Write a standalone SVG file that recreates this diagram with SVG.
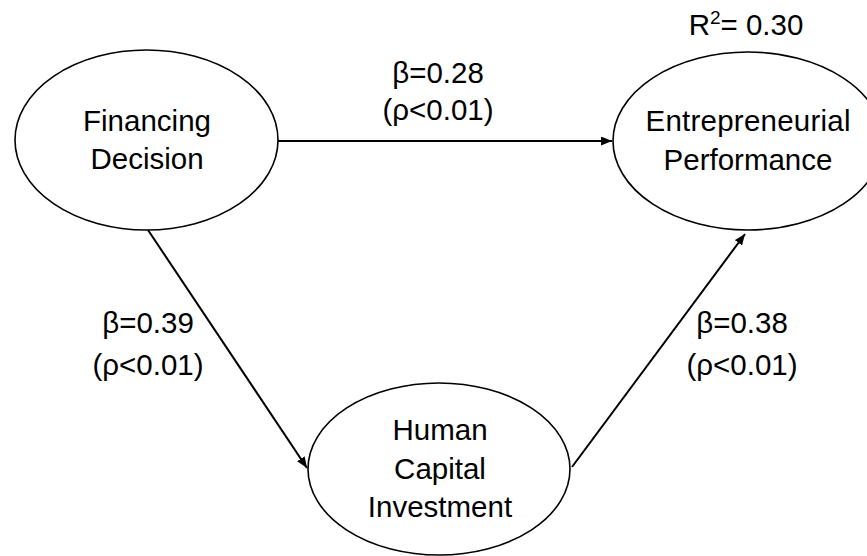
<svg xmlns="http://www.w3.org/2000/svg" width="867" height="556" viewBox="0 0 867 556">
<style>
  .node { fill: #ffffff; stroke: #000000; stroke-width: 1.6; }
  .lbl { font-family: "Liberation Sans", Arial, sans-serif; font-size: 29.5px; fill: #000000; text-anchor: middle; }
  .edge { stroke: #000000; stroke-width: 2; fill: none; marker-end: url(#arrow); }
</style>
<defs>
  <marker id="arrow" markerUnits="userSpaceOnUse" markerWidth="12" markerHeight="10" refX="11" refY="4.5" orient="auto">
    <path d="M0,0 L11,4.5 L0,9 z" fill="#000000"/>
  </marker>
</defs>
<rect width="867" height="556" fill="#ffffff"/>
<g id="connectors">
  <line class="edge" x1="278" y1="141" x2="612" y2="141"/>
  <line class="edge" x1="148" y1="230" x2="307" y2="468"/>
  <line class="edge" x1="572" y1="467" x2="745" y2="234"/>
  <text class="lbl" x="438" y="83">β=0.28</text>
  <text class="lbl" x="438" y="120">(ρ&lt;0.01)</text>
  <text class="lbl" x="148" y="333">β=0.39</text>
  <text class="lbl" x="148" y="375">(ρ&lt;0.01)</text>
  <text class="lbl" x="742" y="333">β=0.38</text>
  <text class="lbl" x="742" y="375">(ρ&lt;0.01)</text>
</g>
<g id="financing-decision">
  <ellipse class="node" cx="146.5" cy="140" rx="131.5" ry="90"/>
  <text class="lbl" x="147" y="131">Financing</text>
  <text class="lbl" x="147" y="169">Decision</text>
</g>
<g id="entrepreneurial-performance">
  <ellipse class="node" cx="748" cy="141" rx="135" ry="89"/>
  <text class="lbl" x="748" y="131" textLength="205" lengthAdjust="spacing">Entrepreneurial</text>
  <text class="lbl" x="748" y="170">Performance</text>
  <text class="lbl" x="746" y="35">R<tspan font-size="19" dy="-11">2</tspan><tspan dy="11">= 0.30</tspan></text>
</g>
<g id="human-capital-investment">
  <ellipse class="node" cx="439" cy="469" rx="131" ry="86"/>
  <text class="lbl" x="440" y="440">Human</text>
  <text class="lbl" x="440" y="479">Capital</text>
  <text class="lbl" x="440" y="517">Investment</text>
</g>
</svg>
